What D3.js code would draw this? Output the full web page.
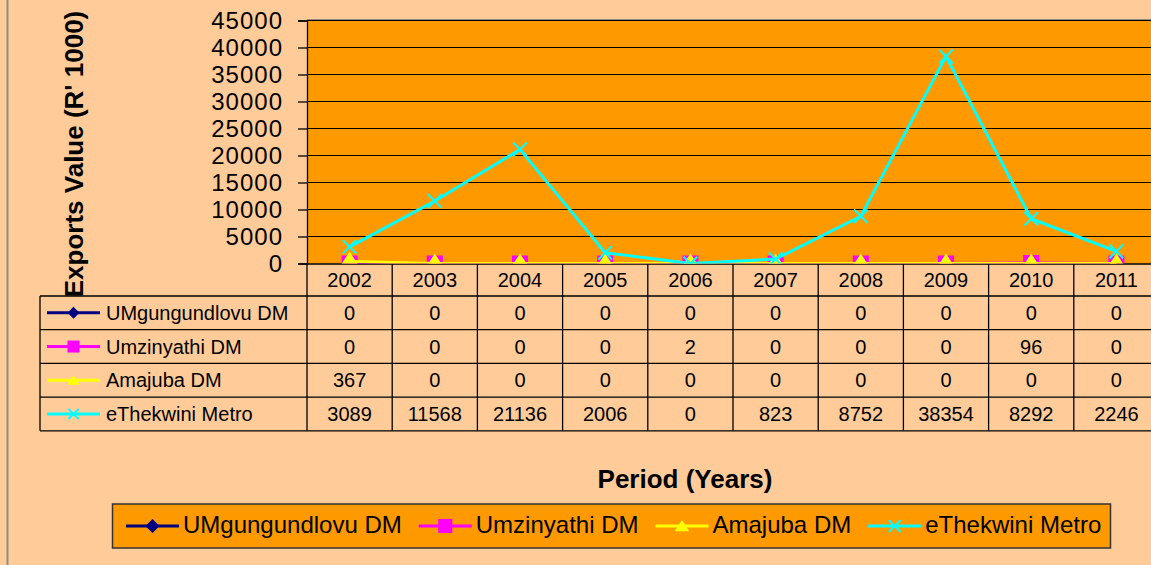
<!DOCTYPE html>
<meta charset="utf-8">
<style>
body { margin: 0; background: #FFCC99; }
svg { display: block; font-family: "Liberation Sans", Arial, sans-serif; }
.grid line { stroke: #000; stroke-width: 1; }
.table line { stroke: #000; stroke-width: 1.3; }
</style>
<svg width="1151" height="565"></svg>
<script src="https://d3js.org/d3.v7.min.js"></script>
<script>

// chart values
var years = ["2002", "2003", "2004", "2005", "2006", "2007", "2008", "2009", "2010", "2011"];
var seriesNames = ["UMgungundlovu DM", "Umzinyathi DM", "Amajuba DM", "eThekwini Metro"];
var umgungundlovu = [0, 0, 0, 0, 0, 0, 0, 0, 0, 0];
var umzinyathi = [0, 0, 0, 0, 2, 0, 0, 0, 96, 0];
var amajuba = [367, 0, 0, 0, 0, 0, 0, 0, 0, 0];
var ethekwini = [3089, 11568, 21136, 2006, 0, 823, 8752, 38354, 8292, 2246];
var yTicks = [0, 5000, 10000, 15000, 20000, 25000, 30000, 35000, 40000, 45000];

var seriesColors = ["#000080", "#FF00FF", "#FFFF00", "#00FFFF"];
var seriesMarkers = ["diamond", "square", "triangle", "cross"];

var series = seriesNames.map(function(name, i) {
  return {
    name: name,
    values: [umgungundlovu, umzinyathi, amajuba, ethekwini][i],
    color: seriesColors[i],
    marker: seriesMarkers[i]
  };
});

var svg = d3.select("svg");

var plotLeft = 307, plotTop = 20.5, plotBottom = 263.5, plotRight = 1159;

var x = d3.scaleBand().domain(years).range([plotLeft, plotRight]);
var y = d3.scaleLinear().domain([0, 45000]).range([plotBottom, plotTop]);

// left border of chart area
svg.append("line")
    .attr("x1", 7.5).attr("x2", 7.5).attr("y1", 0).attr("y2", 565)
    .attr("stroke", "#8c8c8c").attr("stroke-width", 2);

// plot area
svg.append("rect")
    .attr("x", plotLeft).attr("y", plotTop)
    .attr("width", plotRight - plotLeft).attr("height", plotBottom - plotTop)
    .attr("fill", "#FF9900");
svg.append("line")
    .attr("x1", plotLeft).attr("x2", plotRight).attr("y1", plotTop - 0.5).attr("y2", plotTop - 0.5)
    .attr("stroke", "#8c8c8c").attr("stroke-width", 2);

svg.append("g")
    .attr("class", "grid")
  .selectAll("line")
  .data(yTicks.slice(1))
  .enter().append("line")
    .attr("x1", plotLeft).attr("x2", plotRight)
    .attr("y1", function(d) { return y(d); })
    .attr("y2", function(d) { return y(d); });

// y axis
var yAxis = svg.append("g")
    .attr("transform", "translate(" + plotLeft + ",0)")
    .call(d3.axisLeft(y).tickValues(yTicks).tickSize(9).tickPadding(15).tickFormat(d3.format("d")));
yAxis.select(".domain").attr("stroke", "#000").attr("stroke-width", 1.3);
yAxis.selectAll(".tick line").attr("stroke", "#000").attr("stroke-width", 1.3);
yAxis.selectAll("text")
    .attr("fill", "#000")
    .style("font-size", "24px")
    .style("letter-spacing", "1px")
    .style("font-family", "'Liberation Sans', Arial, sans-serif");

svg.append("text")
    .attr("transform", "translate(83,154) rotate(-90)")
    .attr("text-anchor", "middle")
    .style("font-size", "26px")
    .style("font-weight", "bold")
    .text("Exports Value (R' 1000)");

// data table
var rowTop = 296, rowH = 33.7, tableLeft = 40;
var table = svg.append("g").attr("class", "table");

// horizontal rules
d3.range(series.length + 1).forEach(function(i) {
  table.append("line")
      .attr("x1", tableLeft).attr("x2", plotRight)
      .attr("y1", rowTop + i * rowH).attr("y2", rowTop + i * rowH);
});
table.append("line")
    .attr("x1", plotLeft).attr("x2", plotRight)
    .attr("y1", plotBottom + 0.5).attr("y2", plotBottom + 0.5);
// vertical rules
table.append("line")
    .attr("x1", tableLeft).attr("x2", tableLeft)
    .attr("y1", rowTop).attr("y2", rowTop + series.length * rowH);
table.selectAll(".vcol")
  .data(years)
  .enter().append("line")
    .attr("x1", function(d) { return x(d); })
    .attr("x2", function(d) { return x(d); })
    .attr("y1", plotBottom)
    .attr("y2", rowTop + series.length * rowH);

table.selectAll(".year")
  .data(years)
  .enter().append("text")
    .attr("x", function(d) { return x(d) + x.bandwidth() / 2; })
    .attr("y", 287)
    .attr("text-anchor", "middle")
    .style("font-size", "20px")
    .text(function(d) { return d; });

function drawMarker(g, type, cx, cy, s, color) {
  var h = s / 2;
  if (type === "diamond") {
    g.append("path")
        .attr("d", "M" + cx + "," + (cy - h) + "L" + (cx + h) + "," + cy + "L" + cx + "," + (cy + h) + "L" + (cx - h) + "," + cy + "Z")
        .attr("fill", color);
  } else if (type === "square") {
    g.append("rect")
        .attr("x", cx - h).attr("y", cy - h)
        .attr("width", s).attr("height", s)
        .attr("fill", color);
  } else if (type === "triangle") {
    g.append("path")
        .attr("d", "M" + cx + "," + (cy - 0.625 * s) + "L" + (cx + 0.65 * s) + "," + (cy + 0.375 * s) + "L" + (cx - 0.65 * s) + "," + (cy + 0.375 * s) + "Z")
        .attr("fill", color);
  } else {
    var c = h * 0.85;
    g.append("path")
        .attr("d", "M" + (cx - c) + "," + (cy - c) + "L" + (cx + c) + "," + (cy + c) + "M" + (cx + c) + "," + (cy - c) + "L" + (cx - c) + "," + (cy + c))
        .attr("stroke", color).attr("stroke-width", 2).attr("fill", "none");
  }
}

function legendKey(g, s, x0, cy, size) {
  g.append("line")
      .attr("x1", x0).attr("x2", x0 + 53)
      .attr("y1", cy).attr("y2", cy)
      .attr("stroke", s.color).attr("stroke-width", 3);
  var sz = s.marker === "triangle" ? size * 0.8 : size;
  drawMarker(g, s.marker, x0 + 26.5, s.marker === "triangle" ? cy + 1 : cy, sz, s.color);
}

series.forEach(function(s, i) {
  var top = rowTop + i * rowH;
  var row = svg.append("g");
  legendKey(row, s, 47, top + rowH / 2, 12);
  row.append("text")
      .attr("x", 106).attr("y", top + 24)
      .style("font-size", "20px")
      .text(s.name);
  row.selectAll(".val")
    .data(s.values)
    .enter().append("text")
      .attr("x", function(d, j) { return x(years[j]) + x.bandwidth() / 2; })
      .attr("y", top + 24)
      .attr("text-anchor", "middle")
      .style("font-size", "20px")
      .text(function(d) { return d; });
});

// series lines
svg.append("clipPath").attr("id", "plotclip")
  .append("rect")
    .attr("x", plotLeft).attr("y", plotTop)
    .attr("width", plotRight - plotLeft).attr("height", plotBottom - plotTop);

var plot = svg.append("g").attr("clip-path", "url(#plotclip)");
var line = d3.line()
    .x(function(d, j) { return x(years[j]) + x.bandwidth() / 2; })
    .y(function(d) { return y(d); });

series.forEach(function(s) {
  var g = plot.append("g");
  g.append("path")
      .datum(s.values)
      .attr("d", line)
      .attr("fill", "none")
      .attr("stroke", s.color)
      .attr("stroke-width", 3);
  s.values.forEach(function(v, j) {
    drawMarker(g, s.marker, x(years[j]) + x.bandwidth() / 2, y(v), 16, s.color);
  });
});

svg.append("text")
    .attr("x", 685).attr("y", 488)
    .attr("text-anchor", "middle")
    .style("font-size", "26px")
    .style("font-weight", "bold")
    .text("Period (Years)");

// legend
var legend = svg.append("g");
legend.append("rect")
    .attr("x", 112.5).attr("y", 504)
    .attr("width", 998).attr("height", 44)
    .attr("fill", "#FF9900")
    .attr("stroke", "#333").attr("stroke-width", 1.5);

var lx = 126;
series.forEach(function(s) {
  legendKey(legend, s, lx, 526, 14);
  var t = legend.append("text")
      .attr("x", lx + 57).attr("y", 533)
      .style("font-size", "24px")
      .text(s.name);
  lx = lx + 57 + t.node().getComputedTextLength() + 17;
});

</script>
